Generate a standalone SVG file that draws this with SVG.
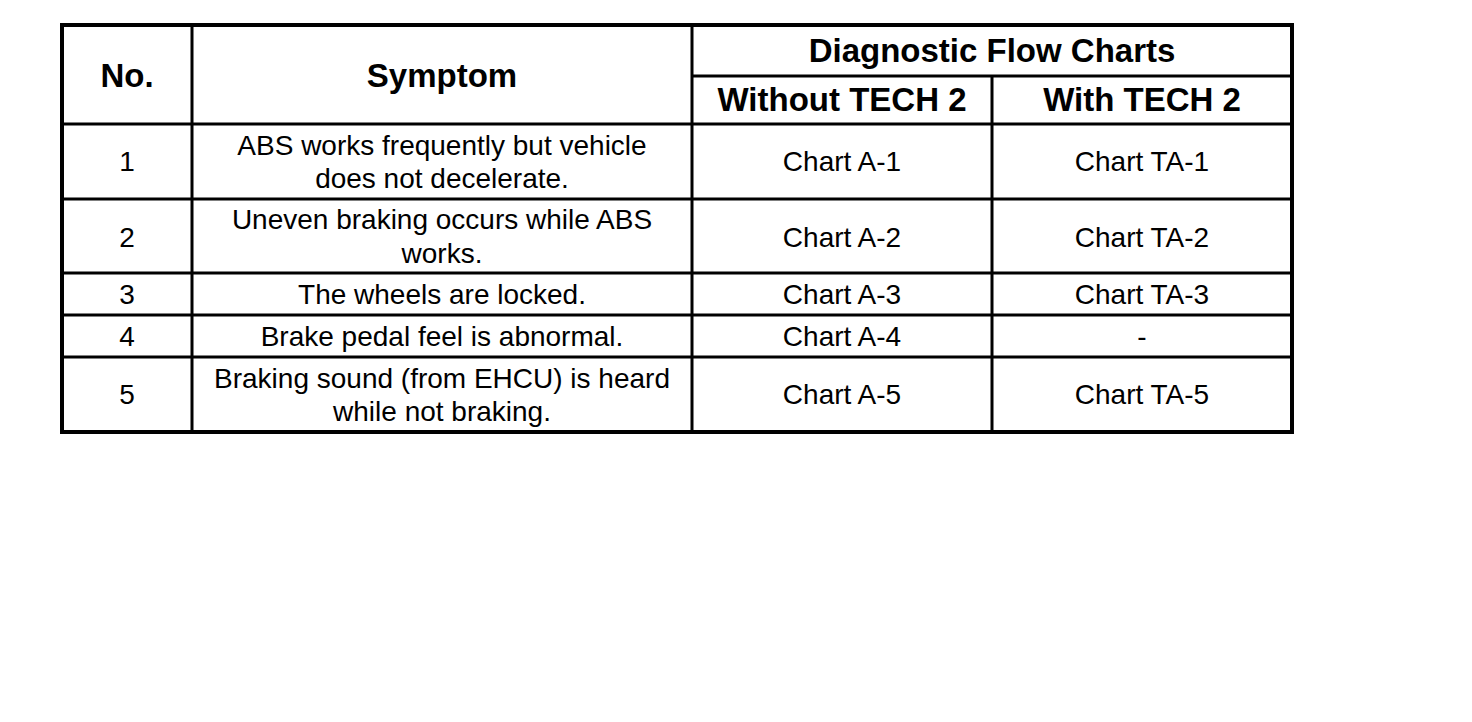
<svg xmlns="http://www.w3.org/2000/svg" width="1472" height="722" viewBox="0 0 1472 722">
<style>
.h{font-family:"Liberation Sans",Arial,sans-serif;font-weight:bold;font-size:33px;text-anchor:middle;fill:#000}
.t{font-family:"Liberation Sans",Arial,sans-serif;font-size:28px;text-anchor:middle;fill:#000}
.in{stroke:#000;stroke-width:3;fill:none}
.out{stroke:#000;stroke-width:4;fill:none}
</style>
<rect width="1472" height="722" fill="#fff"/>
<g id="grid">
<line class="in" x1="192" y1="25" x2="192" y2="432"/>
<line class="in" x1="692" y1="25" x2="692" y2="432"/>
<line class="in" x1="992" y1="76" x2="992" y2="432"/>
<line class="in" x1="692" y1="76" x2="1292" y2="76"/>
<line class="in" x1="62" y1="124" x2="1292" y2="124"/>
<line class="in" x1="62" y1="199" x2="1292" y2="199"/>
<line class="in" x1="62" y1="273" x2="1292" y2="273"/>
<line class="in" x1="62" y1="315" x2="1292" y2="315"/>
<line class="in" x1="62" y1="357" x2="1292" y2="357"/>
<rect class="out" x="62" y="25" width="1230" height="407"/>
</g>
<g id="header">
<text class="h" x="127" y="87">No.</text>
<text class="h" x="442" y="87">Symptom</text>
<text class="h" x="992" y="62">Diagnostic Flow Charts</text>
<text class="h" x="842" y="111">Without TECH 2</text>
<text class="h" x="1142" y="111">With TECH 2</text>
</g>
<g id="row1">
<text class="t" x="127" y="171">1</text>
<text class="t" x="442" y="155">ABS works frequently but vehicle</text>
<text class="t" x="442" y="188">does not decelerate.</text>
<text class="t" x="842" y="171">Chart A-1</text>
<text class="t" x="1142" y="171">Chart TA-1</text>
</g>
<g id="row2">
<text class="t" x="127" y="247">2</text>
<text class="t" x="442" y="229">Uneven braking occurs while ABS</text>
<text class="t" x="442" y="263">works.</text>
<text class="t" x="842" y="247">Chart A-2</text>
<text class="t" x="1142" y="247">Chart TA-2</text>
</g>
<g id="row3">
<text class="t" x="127" y="304">3</text>
<text class="t" x="442" y="304">The wheels are locked.</text>
<text class="t" x="842" y="304">Chart A-3</text>
<text class="t" x="1142" y="304">Chart TA-3</text>
</g>
<g id="row4">
<text class="t" x="127" y="346">4</text>
<text class="t" x="442" y="346">Brake pedal feel is abnormal.</text>
<text class="t" x="842" y="346">Chart A-4</text>
<text class="t" x="1142" y="346">-</text>
</g>
<g id="row5">
<text class="t" x="127" y="404">5</text>
<text class="t" x="442" y="388">Braking sound (from EHCU) is heard</text>
<text class="t" x="442" y="421">while not braking.</text>
<text class="t" x="842" y="404">Chart A-5</text>
<text class="t" x="1142" y="404">Chart TA-5</text>
</g>
</svg>
